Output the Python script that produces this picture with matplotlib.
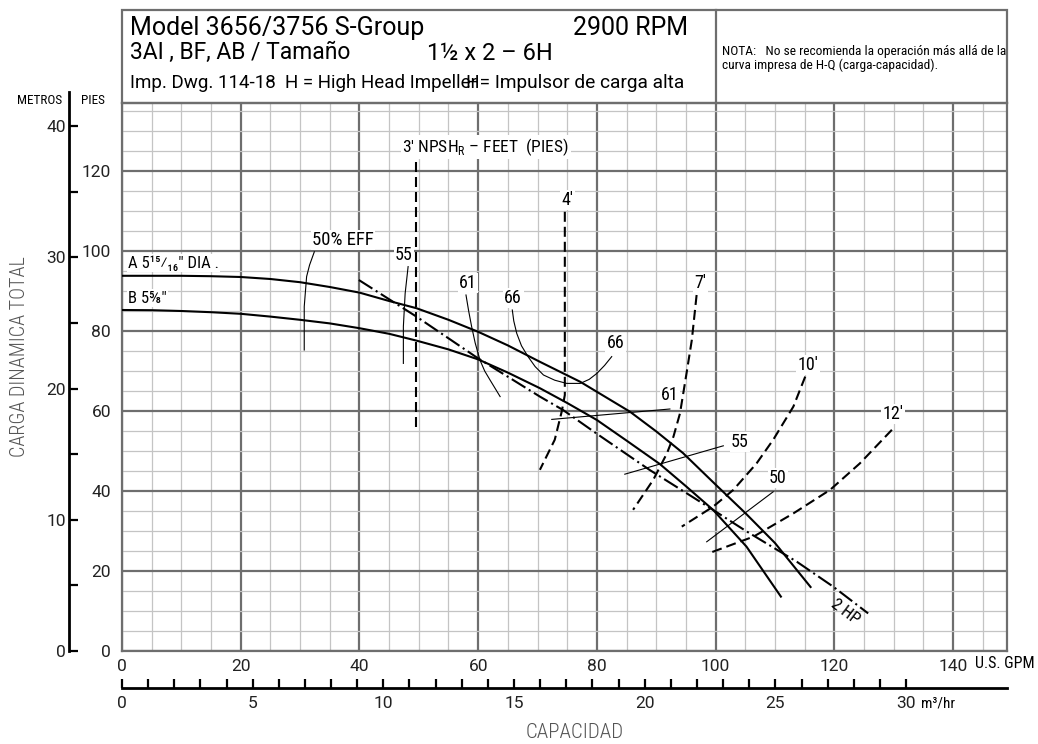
import numpy as np
import matplotlib
matplotlib.use('Agg')
import matplotlib.pyplot as plt
from matplotlib.patches import Rectangle
from matplotlib.ticker import FixedLocator, MultipleLocator

plt.rcParams['font.family'] = ['Roboto Condensed', 'Archivo Narrow', 'DejaVu Sans']
plt.rcParams['mathtext.fontset'] = 'custom'
plt.rcParams['mathtext.rm'] = 'Roboto Condensed'
WIDE = ['Roboto', 'DejaVu Sans']

# Head-capacity curves (U.S. GPM, feet)
gpm_a = [0, 5, 10, 15, 20, 25, 30, 35, 40, 45, 49.6, 55, 60, 65, 70.4, 77.2, 85.6, 90, 94.5, 100, 105, 110, 116]
head_a = [93.8, 93.8, 93.8, 93.7, 93.5, 93.0, 92.2, 91.0, 89.6, 87.5, 85.7, 82.8, 79.8, 76.4, 72.3, 67.3,
          59.8, 54.9, 49.5, 41.6, 34.5, 27.0, 16.0]
gpm_b = [0, 5, 10, 15, 20, 25, 30, 35, 40, 45, 49.6, 55, 60, 65, 70.4, 75, 80, 85, 90.6, 95, 99.6, 105.2, 111]
head_b = [85.25, 85.2, 85.0, 84.7, 84.3, 83.6, 82.8, 81.9, 80.7, 79.3, 77.6, 75.4, 72.9, 69.6, 65.7, 62.0,
          57.75, 52.6, 46.75, 41.2, 35.25, 26.1, 13.6]

# 2 HP power limit
gpm_hp = [39.9, 49.6, 59.75, 70.4, 74.3, 80, 88.9, 99.6, 105, 113.7, 119.8, 125.7]
head_hp = [92.75, 83.6, 73.4, 63.6, 60.25, 54.3, 45.25, 35.25, 30.1, 22.3, 16.1, 9.4]

# NPSH required curves
npsh = {
    "3'": ([49.6, 49.6], [122.3, 55.0]),
    "4'": ([74.6, 74.6, 74.1, 72.9, 70.4], [109.8, 64.0, 60.0, 52.8, 45.3]),
    "7'": ([96.8, 96.0, 95.1, 94.0, 92.9, 91.8, 89.5, 86.1],
           [89.0, 77.8, 69.4, 59.4, 53.6, 49.4, 42.8, 35.3]),
    "10'": ([115.1, 113.1, 109.7, 106.9, 103.0, 99.6, 94.3],
            [68.6, 61.1, 52.8, 46.9, 40.3, 36.1, 31.1]),
    "12'": ([129.7, 124.3, 119.3, 113.1, 106.4, 98.8],
            [55.3, 46.9, 40.3, 34.4, 28.6, 24.4]),
}
npsh_labels = {"4'": (75.1, 112.75), "7'": (97.4, 92.0), "10'": (115.6, 71.5), "12'": (129.9, 59.25)}

# Efficiency lines
eff_lines = [
    ([32.4, 31.6, 31.1, 30.7, 30.7], [99.8, 96.5, 93.6, 86.1, 75.25]),
    ([48.2, 47.7, 47.4, 47.4], [96.1, 89.4, 81.1, 71.9]),
    ([57.95, 58.4, 58.9, 59.5, 60.3, 61.1, 62.0, 63.7], [89.0, 85.0, 81.1, 77.0, 72.75, 70.0, 67.75, 63.6]),
    ([65.75, 66.0, 66.5, 67.3, 68.4, 69.6, 71.0, 72.9, 74.9, 77.2, 78.7, 80.0, 81.3, 82.5],
     [85.25, 82.5, 79.4, 76.3, 73.6, 71.1, 69.0, 67.7, 66.9, 66.9, 67.9, 69.4, 71.4, 73.6]),
    ([72.4, 92.3], [57.9, 60.5]),
    ([84.7, 101.3], [44.2, 51.3]),
    ([98.5, 109.7], [27.3, 39.8]),
]
eff_labels = [
    ("50% EFF", 37.2, 102.75), ("55", 47.5, 99.0), ("61", 58.3, 92.0), ("66", 65.9, 88.25),
    ("66", 83.1, 77.0), ("61", 92.3, 64.0), ("55", 104.1, 52.25), ("50", 110.5, 43.25),
]

gpm_ticks = [0, 20, 40, 60, 80, 100, 120, 140]
ft_ticks = [0, 20, 40, 60, 80, 100, 120]
m_ticks = [0, 10, 20, 30, 40]
m3h_ticks = [0, 5, 10, 15, 20, 25, 30]

FT_PER_M = 3.28084
GPM_PER_M3H = 4.40287

W, H = 1038, 744
fig = plt.figure(figsize=(W / 100, H / 100), dpi=100)
fig.patch.set_facecolor('white')

# plot area in pixels
x0, x1, y0, y1 = 122, 1007, 102.5, 651
ax = fig.add_axes([x0 / W, 1 - y1 / H, (x1 - x0) / W, (y1 - y0) / H])
ax.set_xlim(0, (x1 - x0) / 5.936)
ax.set_ylim(0, (y1 - y0) / 4.0)

major_c, minor_c = '#6e6e6e', '#c4c4c4'
ax.set_xticks(gpm_ticks, labels=[str(v) for v in gpm_ticks], fontfamily=WIDE)
ax.set_yticks(ft_ticks, labels=[str(v) for v in ft_ticks], fontfamily=WIDE)
ax.xaxis.set_minor_locator(MultipleLocator(5))
ax.yaxis.set_minor_locator(MultipleLocator(5))
ax.grid(which='minor', color=minor_c, lw=0.9, zorder=0)
ax.grid(which='major', color=major_c, lw=1.6, zorder=0)
ax.set_axisbelow(True)
ax.tick_params(which='both', length=0)
ax.tick_params(axis='x', pad=6, labelsize=12.5, labelcolor='#222')
ax.tick_params(axis='y', pad=8, labelsize=12.5, labelcolor='#222')
for s in ax.spines.values():
    s.set_color(major_c)
    s.set_linewidth(1.6)

# head curves
ax.plot(gpm_a, head_a, color='black', lw=1.5, zorder=3)
ax.plot(gpm_b, head_b, color='black', lw=1.5, zorder=3)
ax.plot(gpm_hp, head_hp, color='black', lw=1.5, ls=(0, (7.7, 1.9, 1.0, 1.9)), zorder=3)

for key, (xs, ys) in npsh.items():
    ax.plot(xs, ys, color='black', lw=1.5, ls=(0, (4.8, 2.4)), zorder=3)
for key, (lx, ly) in npsh_labels.items():
    ax.text(lx, ly, key, ha='center', va='center', fontsize=13, zorder=4,
            bbox=dict(fc='white', ec='none', pad=1))

for xs, ys in eff_lines:
    ax.plot(xs, ys, color='black', lw=0.8, zorder=3)
for lab, lx, ly in eff_labels:
    ax.text(lx, ly, lab, ha='center', va='center', fontsize=13.5 if '%' in lab else 13, zorder=4,
            bbox=dict(fc='white', ec='none', pad=1))

ax.text(61.3, 126, "3' NPSH$_\\mathrm{R}$ – FEET  (PIES)", ha='center', va='center', fontsize=12.5,
        zorder=4, bbox=dict(fc='white', ec='none', pad=1))
ax.text(1.0, 97.0, 'A 5\u00b9\u2075\u2044\u2081\u2086" DIA .', ha='left', va='center', fontsize=12,
        zorder=4, bbox=dict(fc='white', ec='none', pad=1))
ax.text(1.0, 88.2, 'B 5\u215d"', ha='left', va='center', fontsize=12,
        zorder=4, bbox=dict(fc='white', ec='none', pad=1))
ax.text(121.8, 9.75, '2 HP', ha='center', va='center', fontsize=12, rotation=-37, zorder=4)

# metres scale to the left
sec_y = ax.secondary_yaxis(-(x0 - 69) / (x1 - x0),
                           functions=(lambda f: f / FT_PER_M, lambda m: m * FT_PER_M))
sec_y.set_yticks(m_ticks, labels=[str(v) for v in m_ticks], fontfamily=WIDE)
sec_y.yaxis.set_minor_locator(FixedLocator([5, 15, 25, 35]))
sec_y.tick_params(which='both', direction='in', length=6.5, width=1.6, color='black')
sec_y.tick_params(which='major', pad=2, labelsize=12.5, labelcolor='#222')
sec_y.spines['left'].set_linewidth(2.0)
sec_y.spines['left'].set_bounds(0, 42.6)

# m3/hr scale below
sec_x = ax.secondary_xaxis(-(688 - y1) / (y1 - y0),
                           functions=(lambda g: g / GPM_PER_M3H, lambda q: q * GPM_PER_M3H))
sec_x.set_xticks(m3h_ticks, labels=[str(v) for v in m3h_ticks], fontfamily=WIDE)
sec_x.xaxis.set_minor_locator(FixedLocator([v for v in range(1, 30) if v % 5]))
sec_x.tick_params(which='both', direction='in', length=6.5, width=1.6, color='black')
sec_x.tick_params(which='major', pad=6, labelsize=12.5, labelcolor='#222')
sec_x.spines['bottom'].set_linewidth(2.0)

# overlay in pixel units for header and captions
ov = fig.add_axes([0, 0, 1, 1], facecolor='none')
ov.set_xlim(0, W)
ov.set_ylim(H, 0)
ov.axis('off')
ov.add_patch(Rectangle((x0, 9.5), x1 - x0, y0 - 9.5, fill=False, ec=major_c, lw=1.6))
ov.plot([716, 716], [9.5, y0], color=major_c, lw=1.6)

ov.text(130, 35, 'Model 3656/3756 S-Group', fontsize=18, va='baseline', family=WIDE)
ov.text(688, 35, '2900 RPM', fontsize=18, va='baseline', ha='right', family=WIDE)
ov.text(130, 59, '3AI , BF, AB / Tamaño', fontsize=16.5, va='baseline', family=WIDE)
ov.text(427, 60, '1½ x 2 – 6H', fontsize=17, va='baseline', family=WIDE)
ov.text(130, 88, 'Imp. Dwg. 114-18  H = High Head Impeller', fontsize=13.5, va='baseline', family=WIDE)
ov.text(466, 88, 'H= Impulsor de carga alta', fontsize=13.8, va='baseline', family=WIDE)
ov.text(722, 55, 'NOTA:   No se recomienda la operación más allá de la', fontsize=9.6, va='baseline')
ov.text(722, 69, 'curva impresa de H-Q (carga-capacidad).', fontsize=9.6, va='baseline')

ov.text(40, 100, 'METROS', fontsize=9.5, ha='center', va='center')
ov.text(93, 100, 'PIES', fontsize=9.5, ha='center', va='center')
ov.text(20, 357, 'CARGA DINAMICA TOTAL', fontsize=14.5, rotation=90, ha='center', va='center',
        color='#555', fontweight='light')
ov.text(975, 664, 'U.S. GPM', fontsize=11.5, ha='left', va='center')
ov.text(921, 703, 'm³/hr', fontsize=11, ha='left', va='center')
ov.text(575, 733, 'CAPACIDAD', fontsize=15, ha='center', va='center', color='#555', fontweight='light')

fig.savefig('out.png', dpi=100, facecolor='white')
